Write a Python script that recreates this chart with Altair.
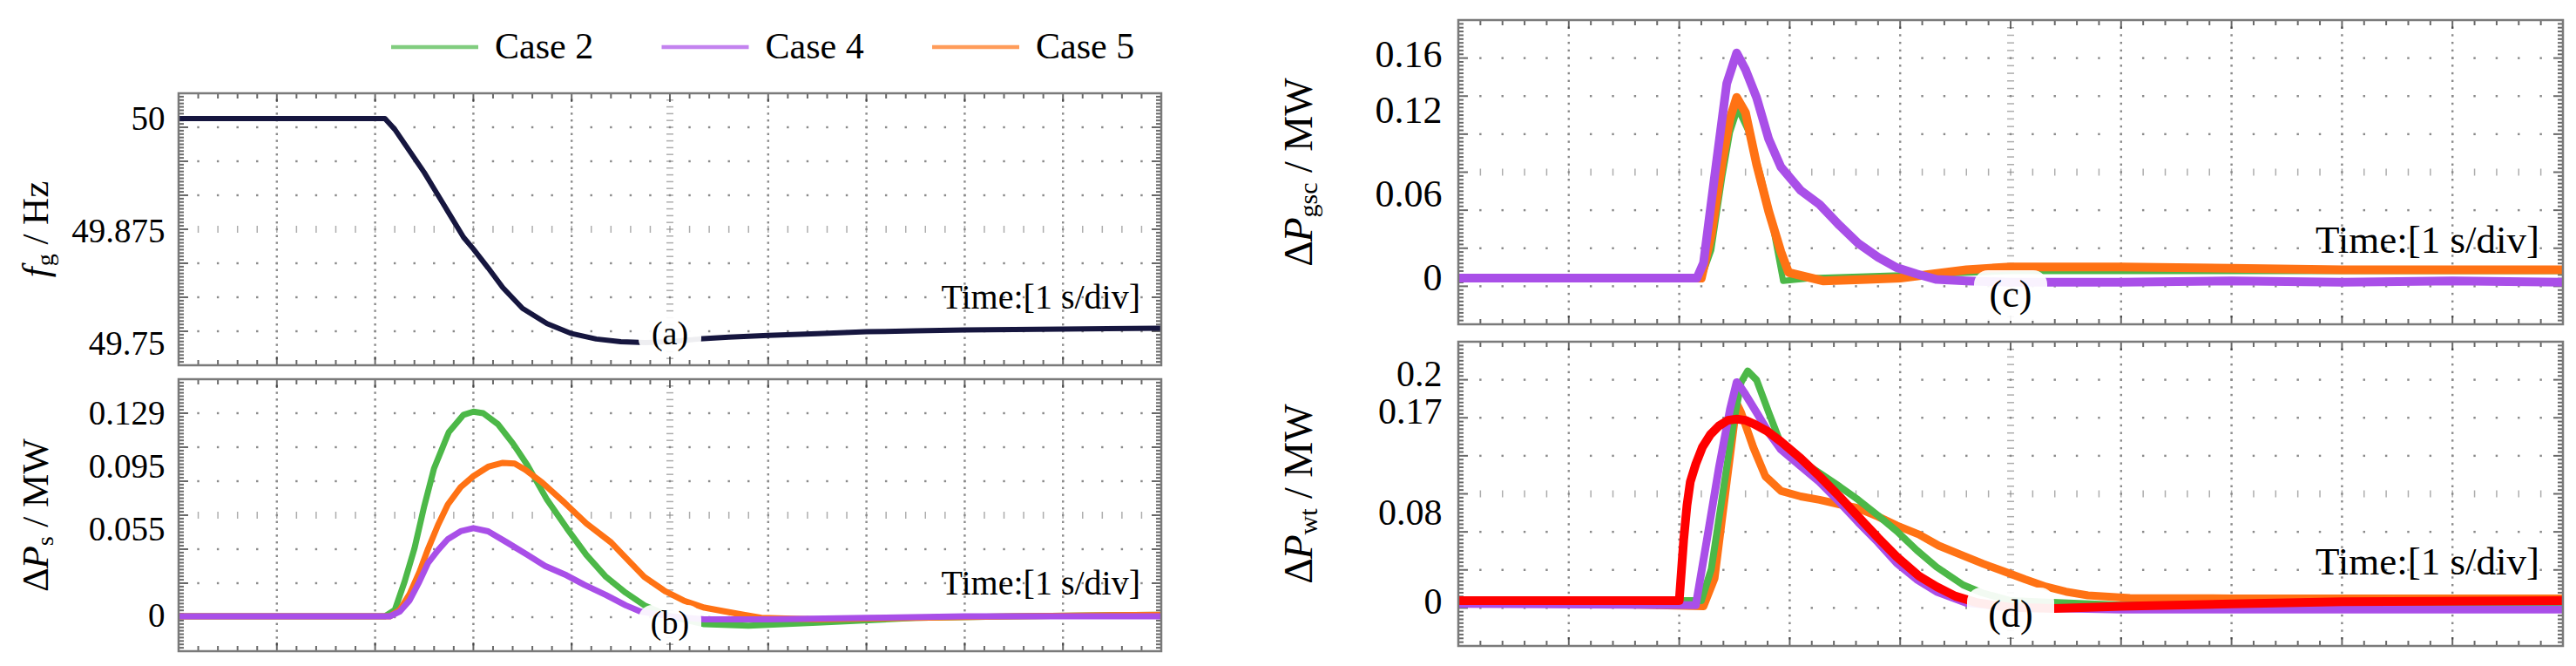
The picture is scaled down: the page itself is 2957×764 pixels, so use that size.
import altair as alt
import pandas as pd

# ---------------- data (x in time divisions, 1 s/div) ----------------
CASES = ["Case 2", "Case 4", "Case 5"]
CASE_COLORS = ["#4cb848", "#a94fe8", "#ff7214"]
FREQ_COLOR = "#16163f"
MODEL_COLOR = "#ff0000"

# (a) grid frequency, Hz
A_T = [0, 1.0, 2.0, 2.1, 2.2, 2.3, 2.4, 2.5, 2.6, 2.75, 2.9, 3.0, 3.15, 3.3, 3.5, 3.75, 4.0, 4.25,
       4.5, 4.75, 5.0, 5.3, 5.6, 6.0, 6.5, 7.0, 7.5, 8.0, 9.0, 10.0]
A_F = [50.0, 50.0, 50.0, 50.0, 49.988, 49.972, 49.956, 49.94, 49.922, 49.895, 49.868, 49.855, 49.834,
       49.812, 49.789, 49.772, 49.761, 49.755, 49.752, 49.751, 49.752, 49.755, 49.757, 49.759, 49.761,
       49.763, 49.764, 49.765, 49.766, 49.767]

# (b) delta P_s, MW
B2_T = [0, 2.1, 2.2, 2.3, 2.4, 2.5, 2.6, 2.75, 2.9, 3.0, 3.1, 3.25, 3.4, 3.55, 3.75, 3.95, 4.15, 4.35,
        4.55, 4.74, 5.0, 5.35, 5.8, 6.5, 7.5, 8.5, 10]
B2_V = [0, 0, 0.004, 0.022, 0.043, 0.07, 0.094, 0.117, 0.128, 0.130, 0.129, 0.122, 0.110, 0.096, 0.074,
        0.056, 0.039, 0.025, 0.015, 0.007, 0.0, -0.005, -0.006, -0.004, -0.001, 0.0, 0.001]
B4_T = [0, 2.15, 2.25, 2.35, 2.45, 2.54, 2.64, 2.74, 2.87, 3.0, 3.15, 3.34, 3.55, 3.73, 3.95, 4.13, 4.35,
        4.55, 4.7, 5.0, 5.35, 6.0, 7.0, 8.0, 10]
B4_V = [0, 0, 0.003, 0.010, 0.022, 0.034, 0.042, 0.049, 0.054, 0.056, 0.054, 0.047, 0.039, 0.032, 0.026,
        0.020, 0.0135, 0.007, 0.003, 0.0, -0.002, -0.002, -0.001, 0.0, 0.0]
B5_T = [0, 2.15, 2.25, 2.35, 2.45, 2.54, 2.64, 2.74, 2.87, 3.0, 3.15, 3.3, 3.42, 3.53, 3.7, 3.93, 4.15,
        4.4, 4.6, 4.74, 4.95, 5.14, 5.35, 5.54, 5.75, 5.93, 6.5, 7.5, 8.5, 10]
B5_V = [0, 0, 0.004, 0.014, 0.028, 0.043, 0.058, 0.071, 0.082, 0.089, 0.095, 0.0975, 0.097, 0.093, 0.085,
        0.072, 0.059, 0.047, 0.034, 0.025, 0.016, 0.010, 0.0055, 0.0033, 0.001, -0.001, -0.002, -0.001,
        0.0, 0.001]

# (c) delta P_gsc, MW
C2_T = [0, 2.2, 2.29, 2.39, 2.46, 2.53, 2.63, 2.74, 2.85, 2.94, 3.2, 4.0, 5.0, 7.0, 10]
C2_V = [0, 0, 0.02, 0.073, 0.105, 0.122, 0.105, 0.073, 0.036, -0.002, 0.0, 0.002, 0.005, 0.005, 0.005]
C4_T = [0, 2.16, 2.22, 2.32, 2.43, 2.52, 2.6, 2.7, 2.81, 2.92, 3.1, 3.27, 3.45, 3.62, 3.8, 3.97, 4.15,
        4.33, 4.6, 5.0, 6.0, 7.0, 8.0, 9.0, 10]
C4_V = [0, 0, 0.011, 0.073, 0.14, 0.162, 0.150, 0.130, 0.100, 0.080, 0.063, 0.053, 0.038, 0.025, 0.015,
        0.0075, 0.003, -0.001, -0.002, -0.003, -0.003, -0.002, -0.003, -0.002, -0.003]
C5_T = [0, 2.2, 2.29, 2.39, 2.46, 2.52, 2.6, 2.7, 2.81, 2.92, 2.99, 3.3, 3.7, 4.0, 4.3, 4.6, 5.0, 6.0,
        7.0, 8.0, 9.0, 10]
C5_V = [0, 0, 0.031, 0.084, 0.115, 0.130, 0.119, 0.082, 0.048, 0.019, 0.004, -0.002, -0.001, 0.0, 0.003,
        0.006, 0.008, 0.008, 0.007, 0.006, 0.006, 0.006]

# (d) delta P_wt, MW
D2_T = [0, 2.2, 2.29, 2.39, 2.49, 2.56, 2.62, 2.7, 2.81, 2.92, 3.0, 3.1, 3.27, 3.45, 3.62, 3.8, 3.97,
        4.15, 4.33, 4.57, 4.74, 5.0, 6.0, 8.0, 10]
D2_V = [0, 0, 0.028, 0.093, 0.158, 0.195, 0.205, 0.197, 0.168, 0.140, 0.130, 0.125, 0.114, 0.102, 0.090,
        0.076, 0.062, 0.045, 0.030, 0.014, 0.007, 0.0, -0.004, -0.003, -0.002]
D4_T = [0, 2.15, 2.25, 2.36, 2.46, 2.52, 2.56, 2.6, 2.7, 2.81, 2.92, 3.1, 3.27, 3.45, 3.62, 3.8, 3.97,
        4.15, 4.33, 4.6, 5.0, 6.0, 7.0, 8.0, 10]
D4_V = [-0.003, -0.004, 0.054, 0.119, 0.171, 0.195, 0.190, 0.184, 0.168, 0.150, 0.135, 0.120, 0.106,
        0.088, 0.070, 0.052, 0.0335, 0.019, 0.008, -0.002, -0.006, -0.008, -0.008, -0.008, -0.008]
D5_T = [0, 2.22, 2.32, 2.43, 2.52, 2.56, 2.67, 2.78, 2.92, 3.1, 3.27, 3.45, 3.62, 3.8, 3.97, 4.17, 4.35,
        4.55, 4.75, 4.94, 5.13, 5.32, 5.5, 5.7, 6.08, 7.0, 8.0, 10]
D5_V = [0, -0.005, 0.02, 0.106, 0.176, 0.168, 0.137, 0.111, 0.098, 0.093, 0.090, 0.086, 0.0825, 0.075,
        0.067, 0.059, 0.049, 0.041, 0.033, 0.026, 0.019, 0.0125, 0.008, 0.0047, 0.0023, 0.002, 0.002,
        0.002]
DM_T = [0, 2.0, 2.04, 2.07, 2.1, 2.15, 2.21, 2.28, 2.36, 2.44, 2.52, 2.6, 2.67, 2.8, 2.92, 3.1, 3.27,
        3.45, 3.62, 3.8, 3.97, 4.17, 4.33, 4.5, 4.7, 5.0, 5.4, 6.0, 7.0, 8.0, 10]
DM_V = [0, 0, 0.054, 0.085, 0.106, 0.122, 0.137, 0.148, 0.156, 0.161, 0.162, 0.161, 0.158, 0.151, 0.142,
        0.127, 0.111, 0.093, 0.075, 0.056, 0.039, 0.022, 0.0125, 0.004, -0.002, -0.006, -0.007, -0.005,
        -0.003, -0.001, 0.0]

# y tick labels
A_TICKS = [49.75, 49.875, 50]
B_TICKS = [0, 0.055, 0.095, 0.129]
C_TICKS = [0, 0.06, 0.12, 0.16]
D_TICKS = [0, 0.08, 0.17, 0.2]

# ---------------- styling / layout ----------------
FONT = "Liberation Serif"
GRID_COLOR = "#8a8a8a"
TICK_COLOR = "#2a2a2a"
FRAME_COLOR = "#7a7a7a"
LW, LH = 1128, 312
RW, RH = 1268, 349

A_DOM = [49.7258, 50.0281]
B_DOM = [-0.02215, 0.15061]
C_DOM = [-0.03325, 0.18570]
D_DOM = [-0.04047, 0.23113]

CASE_SCALE = alt.Scale(domain=CASES, range=CASE_COLORS)
ONE = pd.DataFrame({"d": [0]})


def xs():
    return alt.Scale(domain=[0, 10], nice=False, zero=False)


def grid_group():
    gys = alt.Scale(domain=[0, 8], nice=False, zero=False)
    X = alt.X("gx:Q", scale=xs(), axis=None)
    Y = alt.Y("gy:Q", scale=gys, axis=None)
    dots = []
    for xm in [1, 2, 3, 4, 6, 7, 8, 9]:
        for k in range(1, 40):
            dots.append((xm, k * 0.2))
    for ym in [1, 2, 3, 5, 6, 7]:
        for k in range(1, 50):
            dots.append((k * 0.2, ym))
    dots_df = pd.DataFrame(dots, columns=["gx", "gy"])
    cx_df = pd.DataFrame({"gx": [5] * 39, "gy": [k * 0.2 for k in range(1, 40)]})
    cy_df = pd.DataFrame({"gx": [k * 0.2 for k in range(1, 50)], "gy": [4] * 49})
    minor_x = [k * 0.2 for k in range(1, 50) if k % 5 != 0]
    major_x = list(range(1, 10))
    minor_y = [k * 0.1 for k in range(1, 80) if k % 10 != 0]
    major_y = list(range(1, 8))
    layers = [
        alt.Chart(dots_df).mark_square(size=6, color=GRID_COLOR, opacity=1).encode(x=X, y=Y),
        alt.Chart(cx_df).mark_tick(orient="horizontal", size=8, thickness=1.5, color=GRID_COLOR).encode(x=X, y=Y),
        alt.Chart(cy_df).mark_tick(orient="vertical", size=8, thickness=1.5, color=GRID_COLOR).encode(x=X, y=Y),
    ]
    for gy, sign in [(0, -1), (8, 1)]:
        for xv, L in [(minor_x, 6), (major_x, 10)]:
            df = pd.DataFrame({"gx": xv, "gy": [gy] * len(xv)})
            layers.append(alt.Chart(df).mark_tick(orient="vertical", size=L, thickness=2, color=TICK_COLOR,
                                                  yOffset=sign * L / 2).encode(x=X, y=Y))
    for gx, sign in [(0, 1), (10, -1)]:
        for yv, L in [(minor_y, 6), (major_y, 11)]:
            df = pd.DataFrame({"gx": [gx] * len(yv), "gy": yv})
            layers.append(alt.Chart(df).mark_tick(orient="horizontal", size=L, thickness=2, color=TICK_COLOR,
                                                  xOffset=sign * L / 2).encode(x=X, y=Y))
    return alt.layer(*layers)


def trace(T, V, dom, width, axis, case=None, color=None):
    df = pd.DataFrame({"t": T, "v": V})
    enc = dict(
        x=alt.X("t:Q", scale=xs(), axis=None),
        y=alt.Y("v:Q", scale=alt.Scale(domain=dom, nice=False, zero=False), axis=axis),
    )
    if case is not None:
        df["case"] = case
        enc["color"] = alt.Color("case:N", scale=CASE_SCALE, legend=None)
        mark = alt.Chart(df).mark_line(strokeWidth=width, strokeJoin="round", strokeCap="round", clip=True)
    else:
        mark = alt.Chart(df).mark_line(strokeWidth=width, strokeJoin="round", strokeCap="round", clip=True,
                                       color=color)
    return mark.encode(**enc)


def yaxis(values, size, pad, offset=0):
    return alt.Axis(values=values, format=".6~g", orient="left", ticks=False, domain=False, grid=False,
                    labelFont=FONT, labelFontSize=size, labelColor="black", labelPadding=pad,
                    labelOverlap=False, labelFlush=False, title=None, labelOffset=offset)


# advance widths (em) for title pieces
EM = {"Δ": 0.612, "P": 0.611, "f": 0.30, "s": 0.389, "g": 0.5, "gsc": 1.333, "wt": 1.0,
      "/ MW": 2.361, "/ Hz": 1.694, "gap": 0.25}


def title_layers(pieces, cy, xb, size, sub_size, sub_shift):
    total = 0
    for txt, kind in pieces:
        fs = sub_size if kind == "sub" else size
        total += EM[txt] * fs + (EM["gap"] * size if txt.startswith("/") else 0)
    y = cy + total / 2
    out = []
    for txt, kind in pieces:
        fs = sub_size if kind == "sub" else size
        if txt.startswith("/"):
            y -= EM["gap"] * size
        out.append(alt.Chart(ONE).mark_text(
            text=txt, angle=270, align="left", baseline="alphabetic", font=FONT, fontSize=fs,
            fontStyle="italic" if kind == "it" else "normal", color="black"
        ).encode(x=alt.value(xb + (sub_shift if kind == "sub" else 0)), y=alt.value(y)))
        y -= EM[txt] * fs
    return out


def overlay(W, H, label, box_hw, box_y0, box_y1, label_y, label_size, time_y, time_size, time_pad,
            title_pieces, title_xb, title_size, sub_size):
    layers = [
        alt.Chart(ONE).mark_rect(color="white", opacity=0.93, cornerRadius=16).encode(
            x=alt.value(W / 2 - box_hw), x2=alt.value(W / 2 + box_hw), y=alt.value(box_y0), y2=alt.value(box_y1)),
        alt.Chart(ONE).mark_text(text=label, align="center", baseline="middle", font=FONT,
                                 fontSize=label_size, color="black").encode(x=alt.value(W / 2), y=alt.value(label_y)),
        alt.Chart(ONE).mark_text(text="Time:[1 s/div]", align="right", baseline="alphabetic", font=FONT,
                                 fontSize=time_size, color="black").encode(x=alt.value(W - time_pad), y=alt.value(time_y)),
        alt.Chart(ONE).mark_rect(fillOpacity=0, stroke=FRAME_COLOR, strokeWidth=2.5).encode(
            x=alt.value(0), x2=alt.value(W), y=alt.value(0), y2=alt.value(H)),
    ]
    layers += title_layers(title_pieces, H / 2, title_xb, title_size, sub_size, 6)
    return alt.layer(*layers)


def panel(traces, W, H, ov):
    return alt.layer(grid_group(), alt.layer(*traces), ov).resolve_scale(y="independent").properties(
        width=W, height=H)


LT, LS = 39, 16   # left tick label size / padding
RT, RS = 44, 19

AX_A = yaxis(A_TICKS, LT, LS)
AX_B = yaxis(B_TICKS, LT, LS)
AX_C = yaxis(C_TICKS, RT, RS)
AX_D = yaxis(D_TICKS, 42, RS, offset={"condition": {"test": "datum.value == 0.2", "value": -3},
                                      "value": 2})

pa = panel(
    [trace(A_T, A_F, A_DOM, 6, AX_A, color=FREQ_COLOR)],
    LW, LH,
    overlay(LW, LH, "(a)", 36, 256, 298, 277, 38, 247, 40, 24,
            [("f", "it"), ("g", "sub"), ("/ Hz", "n")], -150, 43, 28))
pb = panel(
    [trace(B2_T, B2_V, B_DOM, 7, AX_B, case="Case 2"),
     trace(B5_T, B5_V, B_DOM, 7, AX_B, case="Case 5"),
     trace(B4_T, B4_V, B_DOM, 7, AX_B, case="Case 4")],
    LW, LH,
    overlay(LW, LH, "(b)", 36, 259, 302, 281, 38, 247, 40, 24,
            [("Δ", "n"), ("P", "it"), ("s", "sub"), ("/ MW", "n")], -150, 43, 28))
pc = panel(
    [trace(C2_T, C2_V, C_DOM, 7, AX_C, case="Case 2"),
     trace(C5_T, C5_V, C_DOM, 10, AX_C, case="Case 5"),
     trace(C4_T, C4_V, C_DOM, 10, AX_C, case="Case 4")],
    RW, RH,
    overlay(RW, RH, "(c)", 42, 287, 345, 316, 44, 267, 45, 27,
            [("Δ", "n"), ("P", "it"), ("gsc", "sub"), ("/ MW", "n")], -168, 46, 30))
pd_ = panel(
    [trace(D5_T, D5_V, D_DOM, 9, AX_D, case="Case 5"),
     trace(D2_T, D2_V, D_DOM, 8, AX_D, case="Case 2"),
     trace(D4_T, D4_V, D_DOM, 9, AX_D, case="Case 4"),
     trace(DM_T, DM_V, D_DOM, 10, AX_D, color=MODEL_COLOR)],
    RW, RH,
    overlay(RW, RH, "(d)", 50, 282, 338, 314, 44, 267, 45, 27,
            [("Δ", "n"), ("P", "it"), ("wt", "sub"), ("/ MW", "n")], -168, 46, 30))

# legend row
leg_df = pd.DataFrame({"case": CASES})
LX = alt.X("case:N", scale=alt.Scale(type="point", domain=CASES, range=[294, 915], padding=0), axis=None)
legend = alt.layer(
    alt.Chart(leg_df).mark_tick(orient="horizontal", size=100, thickness=4.5).encode(
        x=LX, y=alt.value(31), color=alt.Color("case:N", scale=CASE_SCALE, legend=None)),
    alt.Chart(leg_df).mark_text(align="left", baseline="middle", dx=69, font=FONT, fontSize=42,
                                color="black").encode(x=LX, y=alt.value(31), text="case:N"),
).properties(width=LW, height=69)

left = alt.vconcat(legend, pa, pb, spacing=12)
right = alt.vconcat(pc, pd_, spacing=16)
chart = alt.hconcat(left, right, spacing=133).properties(
    padding={"left": 12, "top": 13, "right": 5, "bottom": 5},
    background="white",
).configure_view(stroke="transparent")

chart.save("out.html", embed_options={"renderer": "svg", "actions": False})
